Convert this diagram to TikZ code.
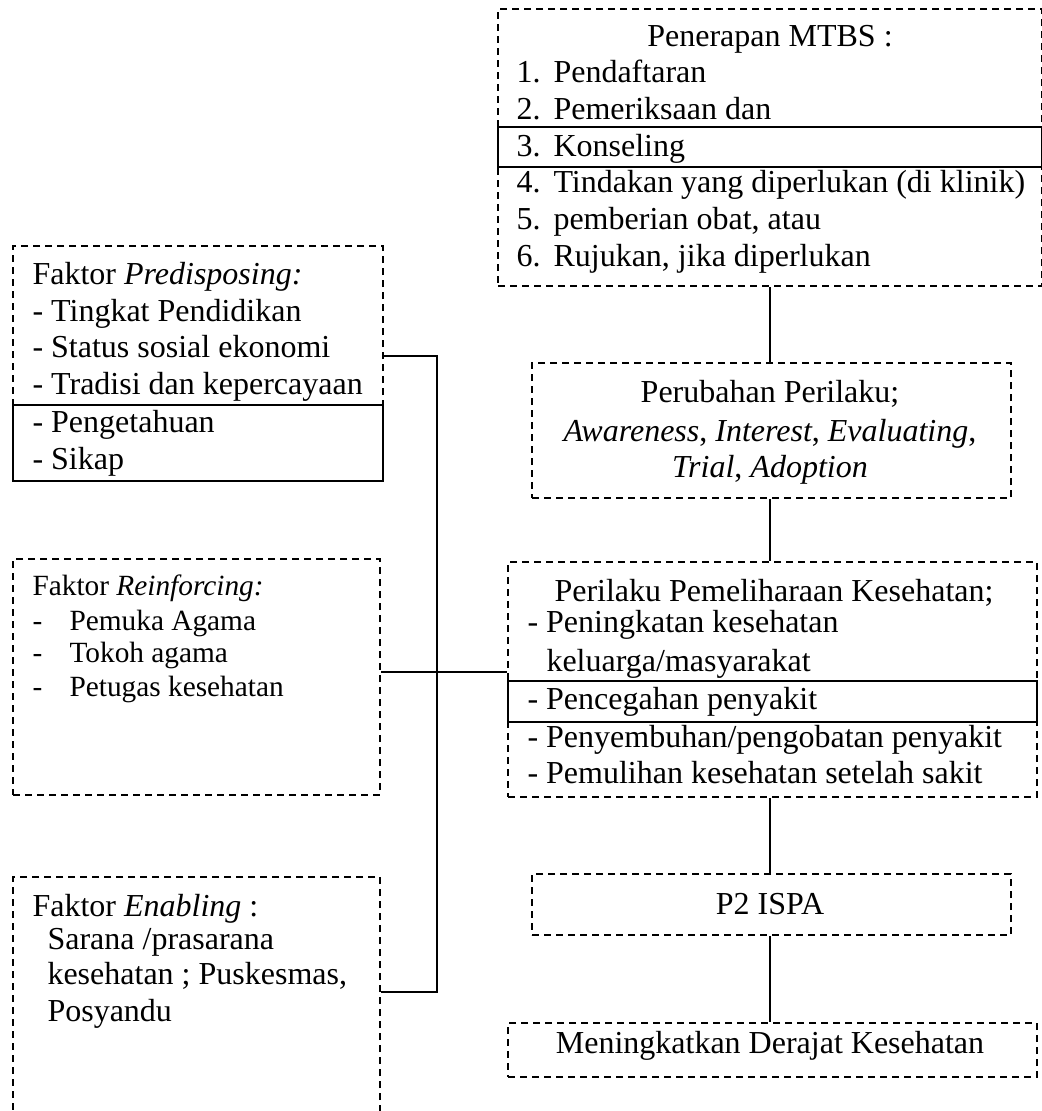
\documentclass[tikz,border=0pt]{standalone}
\usepackage{fontspec}
\setmainfont{Liberation Serif}
\begin{document}
\begin{tikzpicture}[x=0.375pt,y=-0.375pt,
  dbox/.style={draw, dash pattern=on 2.6pt off 1.9pt, line width=0.75pt, inner sep=0pt, anchor=north west},
  sbox/.style={draw, line width=0.75pt, inner sep=0pt, anchor=north west},
  txt/.style={inner sep=0pt, anchor=base west, font=\fontsize{12}{14}\selectfont},
  ctxt/.style={inner sep=0pt, anchor=base, font=\fontsize{12}{14}\selectfont},
  stxt/.style={inner sep=0pt, anchor=base west, font=\fontsize{11}{13}\selectfont},
  link/.style={line width=0.75pt}]
\useasboundingbox (0,0) rectangle (1042,1111);
\clip (0,0) rectangle (1042,1111);

% ---------- boxes ----------
\node[dbox, minimum width={544*0.375pt}, minimum height={277*0.375pt}] (mtbs) at (497,8) {};
\node[sbox, minimum width={544*0.375pt}, minimum height={40*0.375pt}] (mtbsk) at (497,126) {};
\node[dbox, minimum width={370*0.375pt}, minimum height={235*0.375pt}] (pre) at (12,245) {};
\node[sbox, minimum width={370*0.375pt}, minimum height={76*0.375pt}] (prek) at (12,404) {};
\node[dbox, minimum width={367*0.375pt}, minimum height={236*0.375pt}] (rei) at (12,558) {};
\node[dbox, minimum width={367*0.375pt}, minimum height={300*0.375pt}] (ena) at (12,876) {};
\node[dbox, minimum width={479*0.375pt}, minimum height={135*0.375pt}] (per) at (531,362) {};
\node[dbox, minimum width={529*0.375pt}, minimum height={235*0.375pt}] (pem) at (507,561) {};
\node[sbox, minimum width={529*0.375pt}, minimum height={41*0.375pt}] (pemk) at (507,680) {};
\node[dbox, minimum width={479*0.375pt}, minimum height={61*0.375pt}] (isp) at (531,873) {};
\node[dbox, minimum width={529*0.375pt}, minimum height={54*0.375pt}] (der) at (507,1022) {};

% ---------- texts ----------
\node[ctxt] (mt0) at (770,46) {Penerapan MTBS :};
\foreach \i/\y/\t in {1/82/Pendaftaran, 2/119/Pemeriksaan dan, 3/156/Konseling,
  4/192/{Tindakan yang diperlukan (di klinik)}, 5/229/{pemberian obat, atau},
  6/266/{Rujukan, jika diperlukan}}{
  \node[txt] (mn\i) at (516,\y) {\i.};
  \node[txt] (mt\i) at (553,\y) {\t};
}

\node[txt] (pr0) at (32,284) {Faktor \textit{Predisposing:}};
\node[txt] (pr1) at (32,321) {- Tingkat Pendidikan};
\node[txt] (pr2) at (32,357) {- Status sosial ekonomi};
\node[txt] (pr3) at (32,394) {- Tradisi dan kepercayaan};
\node[txt] (pr4) at (32,432) {- Pengetahuan};
\node[txt] (pr5) at (32,469) {- Sikap};

\node[stxt] (re0) at (32,595) {Faktor \textit{Reinforcing:}};
\foreach \i/\y/\t in {1/630/Pemuka Agama, 2/662/Tokoh agama, 3/696/Petugas kesehatan}{
  \node[stxt] (rd\i) at (32,\y) {-};
  \node[stxt] (re\i) at (69,\y) {\t};
}

\node[txt] (en0) at (32,916) {Faktor \textit{Enabling} :};
\node[txt] (en1) at (47,949) {Sarana /prasarana};
\node[txt] (en2) at (47,984) {kesehatan ; Puskesmas,};
\node[txt] (en3) at (47,1021) {Posyandu};

\node[ctxt] (pe0) at (770,402) {Perubahan Perilaku;};
\node[ctxt] (pe1) at (770,441) {\textit{Awareness}, \textit{Interest}, \textit{Evaluating},};
\node[ctxt] (pe2) at (770,477) {\textit{Trial}, \textit{Adoption}};

\node[ctxt] (pm0) at (774,601) {Perilaku Pemeliharaan Kesehatan;};
\node[txt] (pm1) at (527,632) {- Peningkatan kesehatan};
\node[txt] (pm2) at (546,671) {keluarga/masyarakat};
\node[txt] (pm3) at (527,709) {- Pencegahan penyakit};
\node[txt] (pm4) at (527,747) {- Penyembuhan/pengobatan penyakit};
\node[txt] (pm5) at (527,783) {- Pemulihan kesehatan setelah sakit};

\node[ctxt] (is0) at (770,914) {P2 ISPA};
\node[ctxt] (de0) at (770,1053) {Meningkatkan Derajat Kesehatan};

% ---------- connectors ----------
\coordinate (b1) at (437,356);
\coordinate (b2) at (437,992);
\coordinate (j) at (437,672);
\coordinate (v) at (770,0);
\draw[link] (pre.east |- b1) -- (b1) -- (b2) -- (ena.east |- b2);
\draw[link] (rei.east |- j) -- (pem.west |- j);
\draw[link] (mtbs.south -| v) -- (per.north -| v);
\draw[link] (per.south -| v) -- (pem.north -| v);
\draw[link] (pem.south -| v) -- (isp.north -| v);
\draw[link] (isp.south -| v) -- (der.north -| v);
\end{tikzpicture}
\end{document}
